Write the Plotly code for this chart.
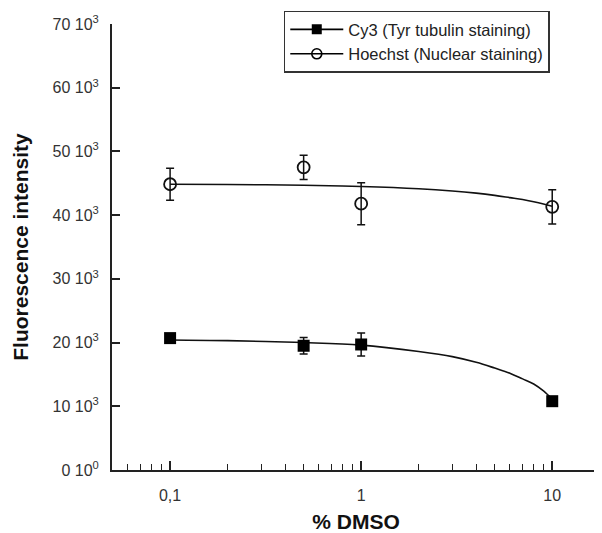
import plotly.graph_objects as go

# Data
dmso = [0.1, 0.5, 1, 10]
cy3 = [20700, 19500, 19700, 10800]
cy3_err = [500, 1300, 1800, 300]
hoechst = [44850, 47500, 41800, 41300]
hoechst_err = [2500, 1900, 3300, 2700]

fit_x = [0.1, 0.2, 0.5, 1, 2, 3, 4, 5, 6, 7, 8, 9, 10]
cy3_fit = [20400, 20300, 20000, 19600, 18600, 17800, 16900, 16000, 15200, 14300, 13500, 12400, 11100]
hoechst_fit = [44850, 44800, 44700, 44500, 44150, 43800, 43450, 43100, 42750, 42450, 42100, 41750, 41400]

y_tickvals = [0, 10000, 20000, 30000, 40000, 50000, 60000, 70000]
y_ticktext = ["0 10<sup>0</sup>", "10 10<sup>3</sup>", "20 10<sup>3</sup>", "30 10<sup>3</sup>",
              "40 10<sup>3</sup>", "50 10<sup>3</sup>", "60 10<sup>3</sup>", "70 10<sup>3</sup>"]
x_tickvals = [0.1, 1, 10]
x_ticktext = ["0,1", "1", "10"]

FONT = "Arial, Liberation Sans, sans-serif"

fig = go.Figure()

# fitted curves
fig.add_trace(go.Scatter(x=fit_x, y=hoechst_fit, mode="lines", line=dict(color="#111", width=1.6, shape="spline"),
                         showlegend=False, hoverinfo="skip"))
fig.add_trace(go.Scatter(x=fit_x, y=cy3_fit, mode="lines", line=dict(color="#111", width=1.6, shape="spline"),
                         showlegend=False, hoverinfo="skip"))

# data points
fig.add_trace(go.Scatter(x=dmso, y=cy3, mode="markers",
                         marker=dict(symbol="square", size=12, color="black"),
                         error_y=dict(type="data", array=cy3_err, color="#111", thickness=1.5, width=4),
                         showlegend=False))
fig.add_trace(go.Scatter(x=dmso, y=hoechst, mode="markers",
                         marker=dict(symbol="circle-open", size=12, color="#111", line=dict(width=1.8)),
                         error_y=dict(type="data", array=hoechst_err, color="#111", thickness=1.5, width=4),
                         showlegend=False))

# legend entries
fig.add_trace(go.Scatter(x=[None], y=[None], mode="lines+markers", name="Cy3 (Tyr tubulin staining)",
                         line=dict(color="black", width=1.6),
                         marker=dict(symbol="square", size=10, color="black")))
fig.add_trace(go.Scatter(x=[None], y=[None], mode="lines+markers", name="Hoechst (Nuclear staining)",
                         line=dict(color="black", width=1.6),
                         marker=dict(symbol="circle-open", size=10, color="black", line=dict(width=1.6))))

minor_vals = [m * 10 ** e for e in (-2, -1, 0) for m in range(2, 10)]

# the page body adds an 8px offset; the figure is sized so the plot lands where the reference has it
fig.update_layout(
    width=594, height=525,
    margin=dict(l=104, r=2, t=16, b=63, autoexpand=False),
    paper_bgcolor="white", plot_bgcolor="white",
    font=dict(family=FONT, size=16, color="#333"),
    showlegend=True,
    legend=dict(x=0.352, y=1.03, xanchor="left", yanchor="top",
                bordercolor="#333", borderwidth=1.5, bgcolor="white",
                font=dict(family=FONT, size=16.5, color="#222"),
                itemwidth=53, tracegroupgap=0),
    xaxis=dict(type="log", range=[-1.304, 1.25],
               tickvals=x_tickvals, ticktext=x_ticktext,
               ticks="inside", ticklen=9, tickwidth=1.5, tickcolor="#222",
               ticklabelstandoff=10,
               showline=True, linecolor="#222", linewidth=2,
               showgrid=False, zeroline=False, automargin=False,
               tickfont=dict(family=FONT, size=16, color="#333"),
               minor=dict(tickvals=minor_vals, ticks="inside", ticklen=6, tickwidth=1.3,
                          tickcolor="#222", showgrid=False),
               title=dict(text="<b>% DMSO</b>", font=dict(family=FONT, size=21, color="#111"), standoff=17)),
    yaxis=dict(range=[0, 70000], tickvals=y_tickvals, ticktext=y_ticktext,
               ticks="inside", ticklen=8, tickwidth=1.5, tickcolor="#222",
               ticklabelstandoff=8,
               showline=True, linecolor="#222", linewidth=2,
               showgrid=False, zeroline=False, automargin=False,
               tickfont=dict(family=FONT, size=16, color="#333"),
               title=dict(text="<b>Fluorescence intensity</b>", font=dict(family=FONT, size=21, color="#111"),
                          standoff=18)),
)

fig.write_html("out.html")
